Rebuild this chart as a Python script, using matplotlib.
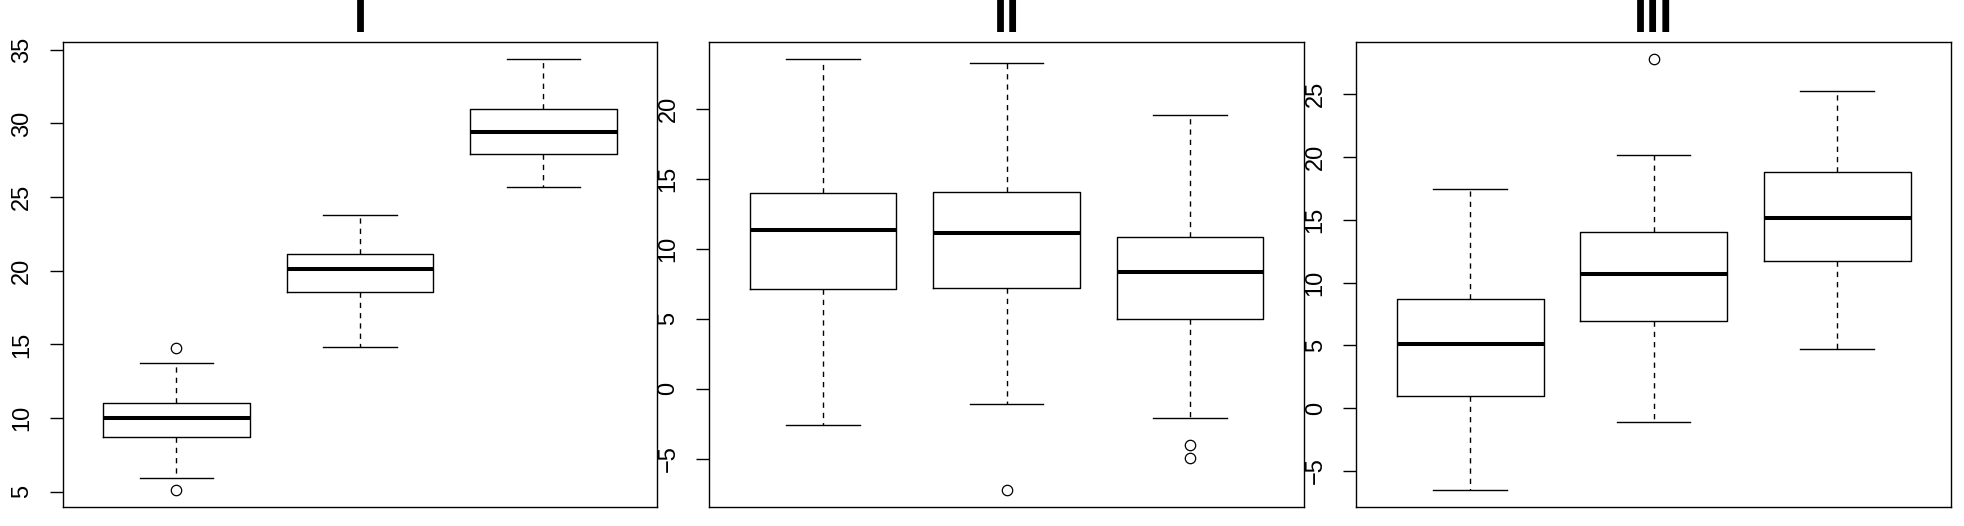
import numpy as np
import matplotlib
matplotlib.use("Agg")
import matplotlib.pyplot as plt
from matplotlib.ticker import MultipleLocator

# panel titles
titles = ["I", "II", "III"]

# box statistics per panel (3 groups each)
q1 = [[8.70, 18.57, 27.95], [7.12, 7.24, 4.97], [0.95, 6.93, 11.74]]
med = [[9.98, 20.14, 29.41], [11.37, 11.11, 8.38], [5.09, 10.67, 15.15]]
q3 = [[11.02, 21.11, 30.98], [14.00, 14.07, 10.85], [8.69, 14.06, 18.81]]
whislo = [[5.93, 14.82, 25.70], [-2.59, -1.08, -2.04], [-6.49, -1.07, 4.69]]
whishi = [[13.73, 23.80, 34.36], [23.54, 23.27, 19.57], [17.45, 20.17, 25.29]]
fliers = [
    [[14.73, 5.14], [], []],
    [[], [-7.2], [-4.0, -4.95]],
    [[], [27.78], []],
]

plt.rcParams['font.family'] = ['Liberation Sans', 'DejaVu Sans']

fig = plt.figure(figsize=(19.64, 5.26), dpi=100)
lefts = [62.7, 709.3, 1356.4]
W, H = 1964.0, 526.0
ax_w = 594.5
bottom, top = 507.0, 42.0

for p in range(3):
    ax = fig.add_axes([lefts[p] / W, (H - bottom) / H, ax_w / W, (bottom - top) / H])
    stats = []
    for g in range(3):
        stats.append(dict(med=med[p][g], q1=q1[p][g], q3=q3[p][g],
                          whislo=whislo[p][g], whishi=whishi[p][g],
                          fliers=fliers[p][g]))
    ax.bxp(stats, positions=[1, 2, 3], widths=0.8, capwidths=0.4,
           showfliers=True,
           boxprops=dict(color='black', linewidth=1.0),
           medianprops=dict(color='black', linewidth=2.9, solid_capstyle='butt'),
           whiskerprops=dict(color='black', linewidth=1.0, linestyle=(0, (3.8, 3.6))),
           capprops=dict(color='black', linewidth=1.0),
           flierprops=dict(marker='o', markersize=7.5, markerfacecolor='none',
                           markeredgecolor='black', markeredgewidth=0.9, linestyle='none'))

    allv = whislo[p] + whishi[p] + [v for f in fliers[p] for v in f]
    lo, hi = min(allv), max(allv)
    r = hi - lo
    ax.set_ylim(lo - 0.04 * r, hi + 0.04 * r)
    ax.set_xlim(0.38, 3.62)

    ax.yaxis.set_major_locator(MultipleLocator(5))
    ax.tick_params(axis='y', length=9.4, width=1.0, pad=12, labelsize=17, direction='out')
    for lab in ax.get_yticklabels():
        lab.set_rotation(90)
        lab.set_va('center')
    ax.set_xticks([])
    for s in ax.spines.values():
        s.set_linewidth(1.0)
    ax.set_title(titles[p], fontsize=34, fontweight='bold', pad=7.4)

plt.savefig("out.png", dpi=100)
